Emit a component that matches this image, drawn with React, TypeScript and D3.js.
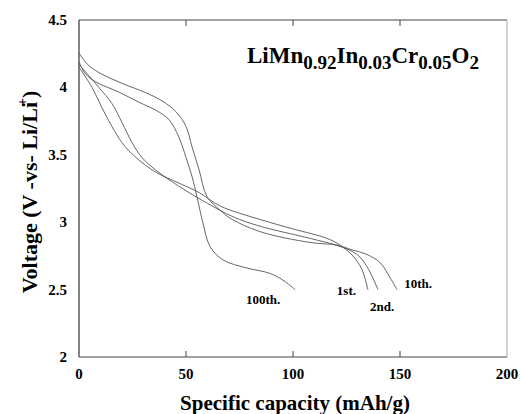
import React from "react";
import * as d3 from "d3";

const xTicks = [0, 50, 100, 150, 200];
const yTicks = [2, 2.5, 3, 3.5, 4, 4.5];

const cap1st = [0, 6.1, 10.7, 15.4, 20.1, 26.6, 36.0, 46.7, 56.1, 66, 84.6, 100, 115.9, 122, 128, 132.2, 135];
const v1st = [4.15, 4.0, 3.85, 3.71, 3.59, 3.48, 3.37, 3.29, 3.22, 3.12, 3.02, 2.95, 2.88, 2.83, 2.75, 2.65, 2.5];

const cap2nd = [0, 9.3, 15.4, 20.1, 24.8, 29.4, 34.1, 40.7, 51.4, 60, 72, 84.6, 108, 122, 130, 134.6, 139.7];
const v2nd = [4.17, 4.0, 3.88, 3.74, 3.59, 3.48, 3.41, 3.33, 3.22, 3.14, 3.04, 2.97, 2.88, 2.82, 2.76, 2.67, 2.5];

const cap10th = [0, 4, 9.3, 20.1, 31.3, 38.8, 45.3, 50.0, 52.8, 56.1, 59.8, 65.9, 70.6, 84.6, 107.9, 120.6, 126.6, 134.6, 140.7, 145.3, 148.6];
const v10th = [4.255, 4.17, 4.11, 4.03, 3.96, 3.9, 3.82, 3.71, 3.56, 3.39, 3.19, 3.09, 3.03, 2.93, 2.85, 2.83, 2.8, 2.76, 2.7, 2.59, 2.5];

const cap100th = [0, 3, 7.9, 18.7, 28.0, 36.0, 42.1, 46.7, 50.0, 52.8, 55.1, 56.5, 58.0, 61.2, 67.3, 78.5, 89.3, 95.3, 101];
const v100th = [4.19, 4.1, 4.04, 3.965, 3.89, 3.83, 3.76, 3.63, 3.48, 3.34, 3.19, 3.09, 2.99, 2.82, 2.72, 2.66, 2.62, 2.57, 2.5];

const seriesNames = ["1st.", "2nd.", "10th.", "100th."];
const seriesCaps = [cap1st, cap2nd, cap10th, cap100th];
const seriesVolts = [v1st, v2nd, v10th, v100th];
const labelPos = [
  [120.5, 2.46],
  [136, 2.34],
  [152, 2.51],
  [78, 2.39],
];

export default function App() {
  const left = 79, right = 507, top = 20, bottom = 357;
  const x = d3.scaleLinear().domain([0, 200]).range([left, right]);
  const y = d3.scaleLinear().domain([2, 4.5]).range([bottom, top]);
  const line = d3
    .line<[number, number]>()
    .x((d) => x(d[0]))
    .y((d) => y(d[1]))
    .curve(d3.curveCatmullRom.alpha(0.5));
  const font = "'Liberation Serif', 'Times New Roman', serif";
  return (
    <svg width={521} height={414} style={{ position: "absolute", left: 0, top: 0, background: "#fff" }} fontFamily={font}>
      <rect x={0} y={0} width={521} height={414} fill="#fff" />
      <line x1={left} x2={right} y1={top} y2={top} stroke="#444" strokeWidth={1} />
      <line x1={left} x2={right} y1={bottom} y2={bottom} stroke="#444" strokeWidth={1} />
      <line x1={left} x2={left} y1={top} y2={bottom} stroke="#333" strokeWidth={1.2} />
      <line x1={right} x2={right} y1={top} y2={bottom} stroke="#aaa" strokeWidth={1} />
      {xTicks.slice(1, -1).map((t) => (
        <g key={"xt" + t}>
          <line x1={x(t)} x2={x(t)} y1={bottom} y2={bottom - 6} stroke="#444" />
          <line x1={x(t)} x2={x(t)} y1={top} y2={top + 6} stroke="#444" />
        </g>
      ))}
      {xTicks.map((t) => (
        <text key={"xl" + t} x={x(t)} y={379} fontSize={15} fontWeight="bold" textAnchor="middle">
          {t}
        </text>
      ))}
      {yTicks.map((t) => (
        <text key={"yl" + t} x={67} y={y(t) + 5} fontSize={15} fontWeight="bold" textAnchor="end">
          {t}
        </text>
      ))}
      {seriesCaps.map((caps, i) => (
        <path
          key={"s" + i}
          d={line(caps.map((c, j) => [c, seriesVolts[i][j]] as [number, number])) || ""}
          fill="none"
          stroke="#555"
          strokeWidth={0.9}
        />
      ))}
      {seriesNames.map((n, i) => (
        <text key={"n" + i} x={x(labelPos[i][0])} y={y(labelPos[i][1])} fontSize={13} fontWeight="bold">
          {n}
        </text>
      ))}
      <text x={247} y={63} fontSize={23} fontWeight="bold">
        LiMn<tspan fontSize={19} dy={6}>0.92</tspan>
        <tspan dy={-6}>In</tspan>
        <tspan fontSize={19} dy={6}>0.03</tspan>
        <tspan dy={-6}>Cr</tspan>
        <tspan fontSize={19} dy={6}>0.05</tspan>
        <tspan dy={-6}>O</tspan>
        <tspan fontSize={19} dy={6}>2</tspan>
      </text>
      <text x={295} y={410} fontSize={21} fontWeight="bold" textAnchor="middle">
        Specific capacity (mAh/g)
      </text>
      <text transform="translate(37,192) rotate(-90)" fontSize={22} fontWeight="bold" textAnchor="middle">
        Voltage (V -vs- Li/Li<tspan fontSize={14} dy={-10} dx={-4}>+</tspan>
        <tspan dy={10}>)</tspan>
      </text>
    </svg>
  );
}
